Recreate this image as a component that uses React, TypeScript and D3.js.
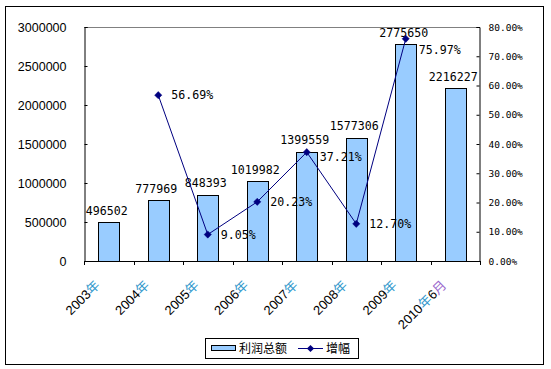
import React, { useRef, useEffect } from 'react';
import * as d3 from 'd3';

const categories = ['2003年', '2004年', '2005年', '2006年', '2007年', '2008年', '2009年', '2010年6月'];
const profit = [496502, 777969, 848393, 1019982, 1399559, 1577306, 2775650, 2216227];
const growth: (number | null)[] = [null, 0.5669, 0.0905, 0.2023, 0.3721, 0.127, 0.7597, null];
const leftTicks = [0, 500000, 1000000, 1500000, 2000000, 2500000, 3000000];
const rightTicks = [0, 0.1, 0.2, 0.3, 0.4, 0.5, 0.6, 0.7, 0.8];

const W = 551;
const H = 369;
const BAR_FILL = '#99ccff';
const LINE_COLOR = '#000080';

const App = () => {
  const svgRef = useRef<SVGSVGElement>(null);

  useEffect(() => {
    const svg = d3.select(svgRef.current);
    svg.selectAll('*').remove();

    const left = 84, right = 480, top = 27, bottom = 261;

    const x = d3.scaleBand<string>()
      .domain(categories)
      .range([left, right])
      .paddingInner(0.576)
      .paddingOuter(0.288);
    const step = x.step();
    const cx = (c: string) => (x(c) as number) + x.bandwidth() / 2;

    const y = d3.scaleLinear().domain([0, 3000000]).range([bottom, top]);
    const y2 = d3.scaleLinear().domain([0, 0.8]).range([bottom, top]);

    // outer frame
    svg.append('rect')
      .attr('x', 5.5).attr('y', 6.5)
      .attr('width', 538).attr('height', 358)
      .attr('fill', 'white').attr('stroke', '#000');

    // plot area top border (gray)
    svg.append('line')
      .attr('x1', left).attr('x2', right)
      .attr('y1', top + 0.5).attr('y2', top + 0.5)
      .attr('stroke', '#808080');

    // bars
    svg.append('g')
      .selectAll('rect')
      .data(categories)
      .join('rect')
      .attr('x', d => Math.round(x(d) as number) + 0.5)
      .attr('y', (d, i) => Math.round(y(profit[i])) + 0.5)
      .attr('width', Math.round(x.bandwidth()))
      .attr('height', (d, i) => Math.round(bottom - y(profit[i])))
      .attr('fill', BAR_FILL)
      .attr('stroke', '#000');

    // left axis
    const gl = svg.append('g')
      .attr('transform', `translate(${left + 0.5},0)`)
      .call(d3.axisLeft(y).tickValues(leftTicks).tickSize(-3).tickPadding(18).tickFormat(d => String(d)));
    gl.select('.domain').attr('stroke', '#000');
    gl.selectAll('text')
      .attr('font-family', '"Liberation Sans", Arial, sans-serif')
      .attr('font-size', 12.5)
      .attr('fill', '#000');

    // right axis
    const gr = svg.append('g')
      .attr('transform', `translate(${right - 0.5},0)`)
      .call(d3.axisRight(y2).tickValues(rightTicks).tickSize(-3).tickPadding(9).tickFormat(d => (+d * 100).toFixed(2) + '%'));
    gr.selectAll('text')
      .attr('font-family', '"DejaVu Sans Mono", monospace')
      .attr('font-size', 9.5)
      .attr('fill', '#000');

    // bottom axis with ticks between categories
    const gb = svg.append('g');
    gb.append('line')
      .attr('x1', left).attr('x2', right)
      .attr('y1', bottom + 0.5).attr('y2', bottom + 0.5)
      .attr('stroke', '#000');
    gb.selectAll('line.tick')
      .data(d3.range(categories.length + 1))
      .join('line')
      .attr('class', 'tick')
      .attr('x1', i => Math.round(left + i * step) + 0.5)
      .attr('x2', i => Math.round(left + i * step) + 0.5)
      .attr('y1', bottom).attr('y2', bottom + 4)
      .attr('stroke', '#000');

    const xl = gb.selectAll('text')
      .data(categories)
      .join('text')
      .attr('transform', d => `translate(${cx(d) - 8},${bottom + 25}) rotate(-45)`)
      .attr('text-anchor', 'end')
      .attr('font-size', 13);
    xl.each(function (d) {
      const t = d3.select(this);
      const parts = d.match(/\d+|[^\d]+/g) || [];
      parts.forEach(p => {
        const isNum = /\d/.test(p);
        t.append('tspan')
          .attr('fill', isNum ? '#000' : p === '月' ? '#9966cc' : '#3399cc')
          .attr('font-family', isNum ? '"Liberation Sans", sans-serif' : '"Noto Sans CJK SC", sans-serif')
          .text(p);
      });
    });

    // bar value labels
    const barLabels = svg.append('g')
      .selectAll('text')
      .data(categories)
      .join('text')
      .attr('x', d => cx(d) - 2)
      .attr('y', (d, i) => y(profit[i]) - 7.5)
      .attr('text-anchor', 'middle')
      .attr('font-family', '"DejaVu Sans Mono", monospace')
      .attr('font-size', 11.6)
      .attr('fill', '#000')
      .text((d, i) => String(profit[i]));

    // growth line
    const pts = categories
      .map((c, i) => ({ c, v: growth[i] }))
      .filter(p => p.v !== null) as { c: string; v: number }[];

    const line = d3.line<{ c: string; v: number }>()
      .x(d => cx(d.c))
      .y(d => y2(d.v));

    svg.append('path')
      .datum(pts)
      .attr('d', line)
      .attr('fill', 'none')
      .attr('stroke', LINE_COLOR)
      .attr('stroke-width', 1);

    const marker = d3.symbol(d3.symbolSquare, 26)();
    svg.append('g')
      .selectAll('path')
      .data(pts)
      .join('path')
      .attr('d', marker)
      .attr('transform', d => `translate(${cx(d.c)},${y2(d.v)}) rotate(45)`)
      .attr('fill', LINE_COLOR)
      .attr('stroke', LINE_COLOR)
      .attr('stroke-width', 0.5);

    const lineLabels = svg.append('g')
      .selectAll('text')
      .data(pts)
      .join('text')
      .attr('x', d => cx(d.c) + 13)
      .attr('y', d => y2(d.v) + 4)
      .attr('font-family', '"DejaVu Sans Mono", monospace')
      .attr('font-size', 11.6)
      .attr('fill', '#000')
      .text(d => (d.v * 100).toFixed(2) + '%');

    // push a growth label down when it runs into a bar value label
    const barBoxes = (barLabels.nodes() as SVGTextElement[]).map(n => n.getBBox());
    (lineLabels.nodes() as SVGTextElement[]).forEach(n => {
      const b = n.getBBox();
      barBoxes.forEach(o => {
        const hit = b.x < o.x + o.width && b.x + b.width > o.x && b.y < o.y + o.height && b.y + b.height > o.y;
        if (hit) {
          const dy = o.y + o.height + 3 - b.y;
          n.setAttribute('y', String(+n.getAttribute('y')! + dy));
        }
      });
    });

    // legend
    const lg = svg.append('g');
    lg.append('rect')
      .attr('x', 205.5).attr('y', 338.5)
      .attr('width', 153).attr('height', 20)
      .attr('fill', 'white').attr('stroke', '#000');
    lg.append('rect')
      .attr('x', 211.5).attr('y', 345.5)
      .attr('width', 24).attr('height', 5)
      .attr('fill', BAR_FILL).attr('stroke', '#000');
    lg.append('text')
      .attr('x', 239).attr('y', 353)
      .attr('font-family', '"Noto Sans CJK SC", sans-serif')
      .attr('font-size', 12)
      .text('利润总额');
    lg.append('line')
      .attr('x1', 298).attr('x2', 323)
      .attr('y1', 348.5).attr('y2', 348.5)
      .attr('stroke', LINE_COLOR);
    lg.append('path')
      .attr('d', marker)
      .attr('transform', 'translate(310.5,348.5) rotate(45)')
      .attr('fill', LINE_COLOR);
    lg.append('text')
      .attr('x', 326).attr('y', 353)
      .attr('font-family', '"Noto Sans CJK SC", sans-serif')
      .attr('font-size', 12)
      .text('增幅');
  }, []);

  return (
    <svg
      ref={svgRef}
      width={W}
      height={H}
      style={{ position: 'absolute', left: 0, top: 0, background: 'white' }}
    />
  );
};

export default App;
